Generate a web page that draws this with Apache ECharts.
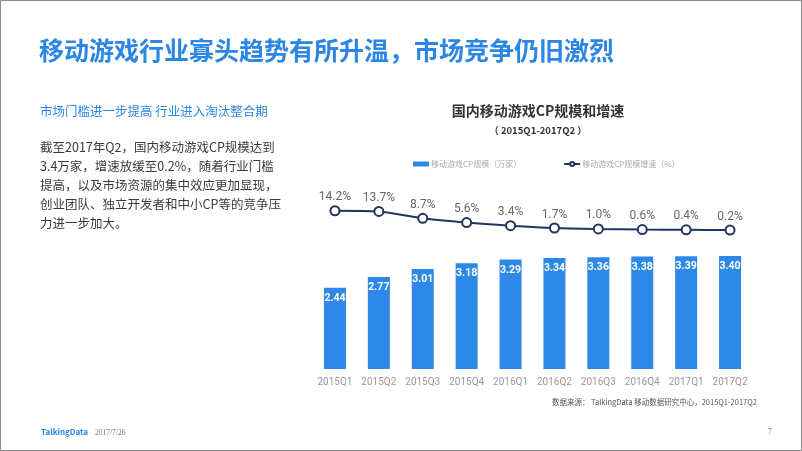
<!DOCTYPE html>
<html>
<head>
<meta charset="utf-8">
<script src="https://cdn.jsdelivr.net/npm/echarts@6/dist/echarts.min.js"></script>
<style>
html,body{margin:0;padding:0;background:#fff;}
#c{width:802px;height:451px;}
</style>
</head>
<body>
<div id="c"></div>
<script>
const categories = ['2015Q1','2015Q2','2015Q3','2015Q4','2016Q1','2016Q2','2016Q3','2016Q4','2017Q1','2017Q2'];
const cpScale = [2.44, 2.77, 3.01, 3.18, 3.29, 3.34, 3.36, 3.38, 3.39, 3.40];
const cpGrowth = [14.2, 13.7, 8.7, 5.6, 3.4, 1.7, 1.0, 0.6, 0.4, 0.2];
const seriesNames = ['移动游戏CP规模（万家）', '移动游戏CP规模增速（%）'];
const bodyLines = [
  '截至2017年Q2，国内移动游戏CP规模达到',
  '3.4万家，增速放缓至0.2%，随着行业门槛',
  '提高，以及市场资源的集中效应更加显现，',
  '创业团队、独立开发者和中小CP等的竞争压',
  '力进一步加大。'
];

const FONT = '"Noto Sans CJK SC", "Noto Sans", sans-serif';
const NUMFONT = 'Roboto, "Noto Sans", sans-serif';
const blue = '#2e88e8';
const navy = '#1f3560';

const chart = echarts.init(document.getElementById('c'), null, {renderer: 'canvas'});

const titles = [
  {text: '移动游戏行业寡头趋势有所升温，市场竞争仍旧激烈', left: 34, top: 33,
   textStyle: {fontFamily: FONT, fontSize: 25, fontWeight: 'bold', color: '#2b86e4'}},
  {text: '市场门槛进一步提高 行业进入淘汰整合期', left: 35, top: 100,
   textStyle: {fontFamily: FONT, fontSize: 12.5, fontWeight: 'normal', color: '#2b86e4'}},
  {text: bodyLines.join('\n'), left: 35, top: 133,
   textStyle: {fontFamily: FONT, fontSize: 12.5, fontWeight: 'normal', color: '#3a3a3a', lineHeight: 19}},
  {text: '国内移动游戏CP规模和增速', left: 533, top: 99, textAlign: 'center',
   textStyle: {fontFamily: FONT, fontSize: 14, fontWeight: 'bold', color: '#333'}},
  {text: '（ 2015Q1-2017Q2 ）', left: 533, top: 121, textAlign: 'center',
   textStyle: {fontFamily: FONT, fontSize: 9.5, fontWeight: 'bold', color: '#333'}},
  {text: '数据来源： TalkingData 移动数据研究中心，2015Q1-2017Q2', right: 40, top: 393,
   textStyle: {fontFamily: FONT, fontSize: 7.5, fontWeight: 'normal', color: '#555'}},
  {text: 'TalkingData', left: 36, top: 423,
   textStyle: {fontFamily: FONT, fontSize: 8, fontWeight: 'bold', color: '#2b86e4'}},
  {text: '2017/7/26', left: 90, top: 424,
   textStyle: {fontFamily: '"Liberation Serif", serif', fontSize: 7.5, fontWeight: 'normal', color: '#777'}},
  {text: '7', left: 763, top: 423,
   textStyle: {fontFamily: '"Liberation Serif", serif', fontSize: 8, fontWeight: 'normal', color: '#777'}}
];

const option = {
  animation: false,
  title: titles,
  graphic: [{type: 'rect', shape: {x: 0.5, y: 0.5, width: 801, height: 450},
    style: {fill: 'none', stroke: '#8a8a8a', lineWidth: 1}, silent: true}],
  legend: {
    left: 408, top: 155, itemGap: 42, itemWidth: 16, itemHeight: 5,
    textStyle: {fontFamily: FONT, fontSize: 8, color: '#aaa', padding: [0,0,0,-3]},
    data: [
      {name: seriesNames[0], icon: 'rect'},
      {name: seriesNames[1]}
    ]
  },
  grid: [
    {left: 313, right: 50, top: 236, bottom: 82},
    {left: 313, right: 50, top: 200, height: 40}
  ],
  xAxis: [
    {type: 'category', data: categories, gridIndex: 0,
     axisLine: {show: false}, axisTick: {show: false},
     axisLabel: {color: '#999', fontFamily: NUMFONT, fontSize: 10, margin: 8, interval: 0, hideOverlap: false}},
    {type: 'category', data: categories, gridIndex: 1, show: false}
  ],
  yAxis: [
    {type: 'value', gridIndex: 0, min: 0, max: 4, show: false, splitLine: {show: false}},
    {type: 'value', gridIndex: 1, min: -7, max: 22, show: false, splitLine: {show: false}}
  ],
  series: [
    {name: seriesNames[0], type: 'bar', xAxisIndex: 0, yAxisIndex: 0, data: cpScale,
     barWidth: 22, itemStyle: {color: blue},
     label: {show: true, position: 'insideTop', distance: 5, color: '#fff',
       fontFamily: NUMFONT, fontSize: 10.5, fontWeight: 'bold',
       formatter: p => p.value.toFixed(2)}},
    {name: seriesNames[1], type: 'line', xAxisIndex: 1, yAxisIndex: 1, data: cpGrowth,
     smooth: 0.25, symbol: 'circle', symbolSize: 9,
     lineStyle: {color: navy, width: 2},
     itemStyle: {color: '#fff', borderColor: navy, borderWidth: 2},
     label: {show: true, position: 'top', distance: 2, color: '#666',
       fontFamily: NUMFONT, fontSize: 12,
       formatter: p => p.value.toFixed(1) + '%'}}
  ]
};
chart.setOption(option);
</script>
</body>
</html>
